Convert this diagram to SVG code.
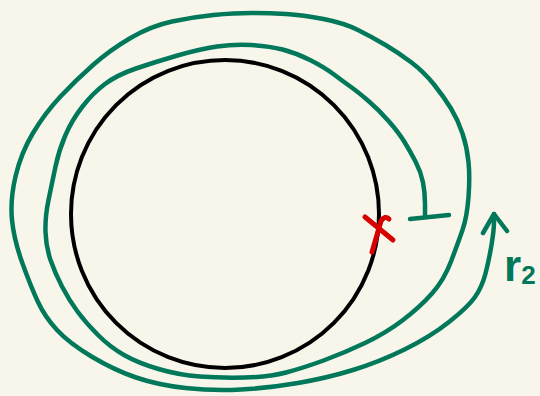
<svg xmlns="http://www.w3.org/2000/svg" width="540" height="396" viewBox="0 0 540 396">
<style>
.g{fill:none;stroke:#02785a;stroke-width:4.5;stroke-linecap:round;stroke-linejoin:round}
.r{fill:none;stroke:#d60000;stroke-width:5;stroke-linecap:round;stroke-linejoin:round}
.lbl{fill:#02785a;font-family:"Liberation Sans",Arial,sans-serif;font-weight:bold}
</style>
<rect width="540" height="396" fill="#f8f6eb"/>
<g id="circle">
<circle cx="225" cy="214" r="154" fill="none" stroke="#000" stroke-width="4"/>
</g>
<g id="connectors">
<path class="g" d="M410,219 L449,215"/>
<path class="g" d="M425,215 L425,204 Q425,193 423,182.5 Q421,172 415.5,161.5 Q410,151 404.5,142 Q399,133 389,121.5 Q379,110 368.5,101 Q358,92 351,87 Q344,82 334,74.5 Q324,67 310,60 Q296,53 282.5,49.5 Q269,46 251.5,45 Q234,44 217,46.5 Q200,49 177.5,55.5 Q155,62 136,68.5 Q117,75 105,84 Q93,93 82.5,106.5 Q72,120 65.5,135 Q59,150 55.5,166.5 Q52,183 48.5,200 Q45,217 45.5,232 Q46,247 50.5,260 Q55,273 62,286.5 Q69,300 77.5,311.5 Q86,323 98,335 Q110,347 124,355 Q138,363 158.5,369 Q179,375 199.5,376.5 Q220,378 244.5,377.5 Q269,377 286,372.5 Q303,368 323.5,360.5 Q344,353 365,343 Q386,333 403,320 Q420,307 432,293.5 Q444,280 451,261.5 Q458,243 462.5,230 Q467,217 468.5,197 Q470,177 468.5,162 Q467,147 462.5,133.5 Q458,120 451,108.5 Q444,97 434,84.5 Q424,72 411.5,62.5 Q399,53 385.5,45 Q372,37 358,30 Q344,23 323.5,19 Q303,15 286,14 Q269,13 251.5,13 Q234,13 213.5,15 Q193,17 172,21.5 Q151,26 130.5,38 Q110,50 93,65 Q76,80 60.5,96.5 Q45,113 33,133 Q21,153 15.5,176.5 Q10,200 12,220 Q14,240 22.5,263.5 Q31,287 38,302 Q45,317 57,330 Q69,343 91.5,356.5 Q114,370 136,377.5 Q158,385 185.5,388 Q213,391 241,389.5 Q269,388 298,383 Q327,378 353,370 Q379,362 404.5,349.5 Q430,337 449,322 Q468,307 475,297 Q482,287 485.5,273.5 Q489,260 491.5,245 Q494,230 494,222 L494,214"/>
<path class="g" d="M483,233 L494,214 L507,231"/>
</g>
<g id="pole">
<path class="r" d="M365,217 L393,240"/>
<path class="r" d="M389,219 Q385,215 381,221 L377,235 L372,252"/>
</g>
<g id="label">
<text class="lbl" x="504" y="281" font-size="44">r<tspan font-size="26" dy="3">2</tspan></text>
</g>
</svg>
